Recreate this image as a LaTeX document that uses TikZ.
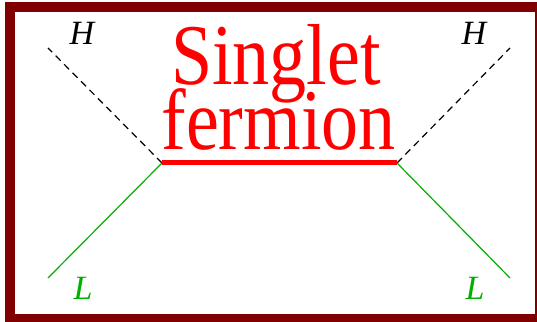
\documentclass[tikz,border=0pt]{standalone}
\usepackage{fontspec}
\setmainfont{Liberation Serif}
\definecolor{framered}{RGB}{128,0,0}
\definecolor{lgreen}{RGB}{0,175,0}
\begin{document}
\begin{tikzpicture}[x=1pt,y=1pt,
  higgs/.style={black,line width=1.2pt,dash pattern=on 7pt off 5pt},
  lepton/.style={lgreen,line width=1.2pt},
  fermionline/.style={red,line width=5pt},
  lbl/.style={font=\fontsize{34}{34}\selectfont\itshape,inner sep=0pt},
  big/.style={red,font=\fontsize{74}{74}\selectfont,inner sep=0pt,anchor=base,yscale=1.17,transform shape}]
\useasboundingbox (0,0) rectangle (537,321);
\begin{scope}
\clip (0,0) rectangle (537,321);
\draw[framered,line width=10pt] (10,313.5) rectangle (540,2);
\end{scope}
\coordinate (vL) at (162,158);
\coordinate (vR) at (397,158);
\coordinate (hL) at (48,273);
\coordinate (hR) at (510,273);
\coordinate (lL) at (48,43);
\coordinate (lR) at (510,43);
\draw[higgs] (vL) -- (hL);
\draw[higgs] (vR) -- (hR);
\draw[lepton] (vL) -- (lL);
\draw[lepton] (vR) -- (lR);
\draw[fermionline] (vL) -- (vR);
\node[lbl] (HLlab) at (82,288) {H};
\node[lbl] (HRlab) at (474,288) {H};
\node[lbl,lgreen] (LLlab) at (83,33) {L};
\node[lbl,lgreen] (LRlab) at (475,33) {L};
\node[big,text depth=0pt] (singlet) at (276,236) {Singlet};
\node[big,text height=40pt] (fermion) at (278.5,171) {fermion};
\end{tikzpicture}
\end{document}
